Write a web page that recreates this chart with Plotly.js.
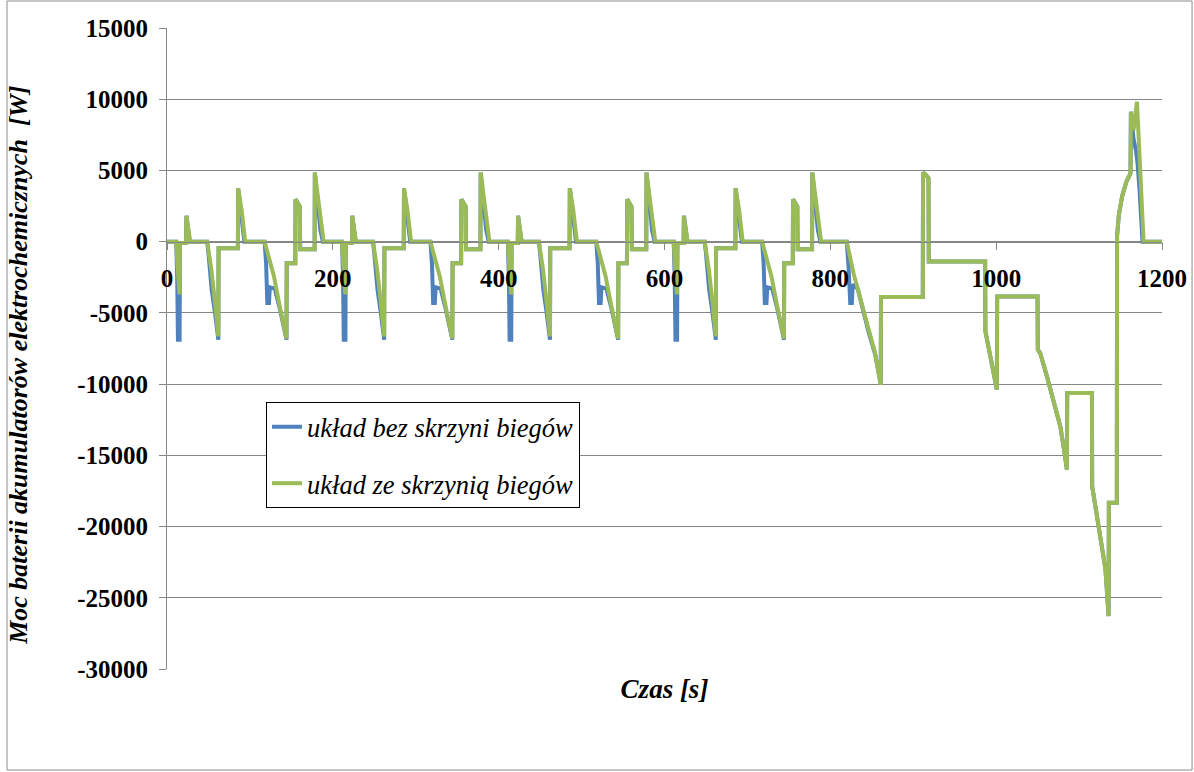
<!DOCTYPE html>
<html>
<head>
<meta charset="utf-8">
<script src="https://cdn.plot.ly/plotly-3.0.1.min.js"></script>
<style>html,body{margin:0;padding:0;background:#fff;}#chart{width:1194px;height:772px;}</style>
</head>
<body>
<div id="chart"></div>
<script>
// Series 1: układ bez skrzyni biegów (blue)
var timeNoGear = [
0,11.1,12.3,13.2,15.2,15.6,23,23.4,27.5,48.5,50,53.9,57.9,61.3,61.9,62.2,85.5,85.8,90,93.3,117.7,119.5,121,123,124,130,136,143.5,144.1,144.4,154.7,155,160.2,160.6,178,178.3,183,185,188,
200,211.1,212.3,213.2,215.2,215.6,223,223.4,227.5,248.5,250,253.9,257.9,261.3,261.9,262.2,285.5,285.8,290,293.3,317.7,319.5,321,323,324,330,336,343.5,344.1,344.4,354.7,355,360.2,360.6,378,378.3,383,385,388,
400,411.1,412.3,413.2,415.2,415.6,423,423.4,427.5,448.5,450,453.9,457.9,461.3,461.9,462.2,485.5,485.8,490,493.3,517.7,519.5,521,523,524,530,536,543.5,544.1,544.4,554.7,555,560.2,560.6,578,578.3,583,585,588,
600,611.1,612.3,613.2,615.2,615.6,623,623.4,627.5,648.5,650,653.9,657.9,661.3,661.9,662.2,685.5,685.8,690,693.3,717.7,719.5,721,723,724,730,736,743.5,744.1,744.4,754.7,755,760.2,760.6,778,778.3,783,785,788,
800,819.8,822,824,826,827,833,838,846,854,860.3,860.8,861.1,911.5,911.8,915,918.4,918.7,986.7,987,993,1000.8,1001.2,1049.9,1050.2,1053.1,1061.2,1069.2,1077.3,1081.2,1085.3,1085.7,1115.5,1115.8,1125.7,1131.8,1135.6,1135.9,1145.5,1145.8,1148,1152,1157,1162,1162.5,1165.7,1168.6,1170.5,1172.9,1175.8,1176.5,1200
];
var powerNoGear = [
0,0,-2500,-6880,-6880,-100,-100,1810,0,0,-810,-3380,-5010,-6880,-6880,-460,-460,3750,1660,0,0,-1500,-4300,-4300,-3200,-3300,-4700,-6880,-6880,-1510,-1510,2980,2460,-530,-530,4850,1800,800,0,
0,0,-2500,-6880,-6880,-100,-100,1810,0,0,-810,-3380,-5010,-6880,-6880,-460,-460,3750,1660,0,0,-1500,-4300,-4300,-3200,-3300,-4700,-6880,-6880,-1510,-1510,2980,2460,-530,-530,4850,1800,800,0,
0,0,-2500,-6880,-6880,-100,-100,1810,0,0,-810,-3380,-5010,-6880,-6880,-460,-460,3750,1660,0,0,-1500,-4300,-4300,-3200,-3300,-4700,-6880,-6880,-1510,-1510,2980,2460,-530,-530,4850,1800,800,0,
0,0,-2500,-6880,-6880,-100,-100,1810,0,0,-810,-3380,-5010,-6880,-6880,-460,-460,3750,1660,0,0,-1500,-4300,-4300,-3200,-3300,-4700,-6880,-6880,-1510,-1510,2980,2460,-530,-530,4850,1800,800,0,
0,0,-1800,-4300,-4300,-3000,-3300,-4500,-6300,-7900,-9950,-9950,-3890,-3890,4850,4700,4450,-1400,-1400,-6300,-8050,-10390,-3850,-3850,-7580,-7820,-9460,-11090,-12960,-14360,-16000,-10620,-10620,-17170,-20670,-23000,-26280,-18330,-18330,400,1900,3200,4200,4800,9120,7200,6400,5500,3630,360,0,0
];

// Series 2: układ ze skrzynią biegów (green)
var timeGear = [
0,11.1,12.5,14,15,15.6,23,23.4,28,48.5,53.5,57.5,61.3,61.9,62.2,85.5,85.8,90,94,95.5,117.7,129,136,143.5,144.1,144.4,154.7,155,160.2,160.6,178,178.3,184.6,188.9,
200,211.1,212.5,214,215,215.6,223,223.4,228,248.5,253.5,257.5,261.3,261.9,262.2,285.5,285.8,290,294,295.5,317.7,329,336,343.5,344.1,344.4,354.7,355,360.2,360.6,378,378.3,384.6,388.9,
400,411.1,412.5,414,415,415.6,423,423.4,428,448.5,453.5,457.5,461.3,461.9,462.2,485.5,485.8,490,494,495.5,517.7,529,536,543.5,544.1,544.4,554.7,555,560.2,560.6,578,578.3,584.6,588.9,
600,611.1,612.5,614,615,615.6,623,623.4,628,648.5,653.5,657.5,661.3,661.9,662.2,685.5,685.8,690,694,695.5,717.7,729,736,743.5,744.1,744.4,754.7,755,760.2,760.6,778,778.3,784.6,788.9,
800,819.8,827.9,838,846,854,860.3,860.8,861.1,911.5,911.8,915,918.4,918.7,986.7,987,993,1000.8,1001.2,1049.9,1050.2,1053.1,1061.2,1069.2,1077.3,1081.2,1085.3,1085.7,1115.5,1115.8,1125.7,1131.8,1135.6,1135.9,1145.5,1145.8,1148,1152,1157,1162,1162.5,1165.7,1169.8,1171.7,1173.8,1175.8,1177.8,1200
];
var powerGear = [
0,0,-1500,-3700,-3700,-100,-100,1810,0,0,-1980,-4080,-6420,-6650,-460,-460,3750,2230,150,0,0,-2440,-4550,-6650,-6800,-1510,-1510,2980,2460,-530,-530,4850,2000,0,
0,0,-1500,-3700,-3700,-100,-100,1810,0,0,-1980,-4080,-6420,-6650,-460,-460,3750,2230,150,0,0,-2440,-4550,-6650,-6800,-1510,-1510,2980,2460,-530,-530,4850,2000,0,
0,0,-1500,-3700,-3700,-100,-100,1810,0,0,-1980,-4080,-6420,-6650,-460,-460,3750,2230,150,0,0,-2440,-4550,-6650,-6800,-1510,-1510,2980,2460,-530,-530,4850,2000,0,
0,0,-1500,-3700,-3700,-100,-100,1810,0,0,-1980,-4080,-6420,-6650,-460,-460,3750,2230,150,0,0,-2440,-4550,-6650,-6800,-1510,-1510,2980,2460,-530,-530,4850,2000,0,
0,0,-2210,-4310,-6180,-7820,-9920,-9920,-3890,-3890,4850,4700,4450,-1400,-1400,-6300,-8050,-10390,-3850,-3850,-7580,-7820,-9460,-11090,-12960,-14360,-16000,-10620,-10620,-17170,-20670,-23000,-26280,-18330,-18330,400,1900,3200,4200,4800,9120,7840,9820,7140,5260,2930,0,0
];

var seriesNames = ['układ bez skrzyni biegów', 'układ ze skrzynią biegów'];
var xTickVals = [0, 200, 400, 600, 800, 1000, 1200];
var xTickText = ['0', '200', '400', '600', '800', '1000', '1200'];
var yTickVals = [-30000, -25000, -20000, -15000, -10000, -5000, 0, 5000, 10000, 15000];
var yTickText = ['-30000', '-25000', '-20000', '-15000', '-10000', '-5000', '0', '5000', '10000', '15000'];
var xTitle = 'Czas [s]';
var yTitle = 'Moc baterii akumulatorów elektrochemicznych&nbsp;&nbsp;[W]&nbsp;&nbsp;&nbsp;&nbsp;&nbsp;';

var serif = '"Liberation Serif", "Times New Roman", serif';
var grid = '#868686';

var traces = [
  {x: timeNoGear, y: powerNoGear, type: 'scatter', mode: 'lines', name: seriesNames[0],
   legendgroup: 'a', line: {color: '#4F81BD', width: 4}},
  {x: timeGear, y: powerGear, type: 'scatter', mode: 'lines', name: seriesNames[1],
   legendgroup: 'b', line: {color: '#9BBB59', width: 4}}
];

var layout = {
  width: 1194, height: 772,
  margin: {l: 167, r: 32, t: 28, b: 103},
  paper_bgcolor: '#ffffff', plot_bgcolor: '#ffffff',
  showlegend: true,
  legend: {
    x: 0.0995, y: 0.4165, xanchor: 'left', yanchor: 'top',
    bgcolor: '#ffffff', bordercolor: '#000000', borderwidth: 1,
    font: {family: serif, size: 26.5, color: '#000', style: 'italic'},
    traceorder: 'grouped', tracegroupgap: 19
  },
  xaxis: {
    range: [0, 1200], anchor: 'free', position: 0.6667,
    tickvals: xTickVals, ticktext: xTickText,
    ticks: 'outside', ticklen: 7, tickcolor: grid, tickwidth: 1,
    showline: true, linecolor: grid, linewidth: 1,
    showgrid: false, zeroline: false,
    ticklabelstandoff: 7,
    tickfont: {family: serif, size: 25, color: '#000', weight: 'bold'},
    title: {text: xTitle, standoff: 388, font: {family: serif, size: 27, color: '#000', weight: 'bold', style: 'italic'}}
  },
  yaxis: {
    range: [-30000, 15000],
    tickvals: yTickVals, ticktext: yTickText,
    ticks: 'outside', ticklen: 7, tickcolor: grid, tickwidth: 1,
    showline: true, linecolor: grid, linewidth: 1,
    showgrid: true, gridcolor: grid, gridwidth: 1,
    zeroline: true, zerolinecolor: grid, zerolinewidth: 1,
    ticklabelstandoff: 6,
    tickfont: {family: serif, size: 25, color: '#000', weight: 'bold'},
    title: {text: yTitle, standoff: 42, font: {family: serif, size: 26, color: '#000', weight: 'bold', style: 'italic'}}
  },
  shapes: [
    {type: 'rect', xref: 'paper', yref: 'paper', x0: -0.1608, x1: 1.0302, y0: -0.1576, y1: 1.0421,
     line: {color: '#8c8c8c', width: 1}, fillcolor: 'rgba(0,0,0,0)', layer: 'below'}
  ]
};

Plotly.newPlot('chart', traces, layout, {displayModeBar: false, staticPlot: true});
</script>
</body>
</html>
